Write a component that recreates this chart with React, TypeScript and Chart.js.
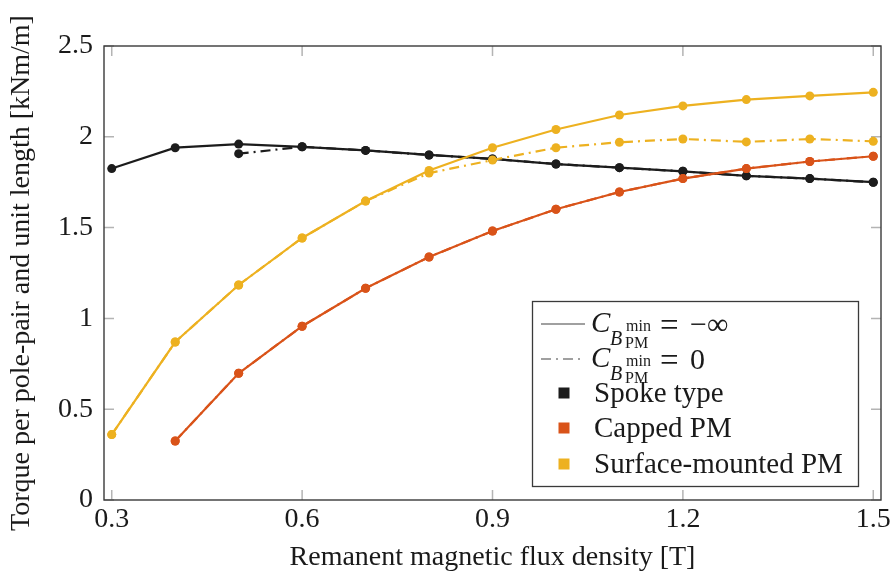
import React, { useEffect, useRef } from 'react';
import { Chart, registerables } from 'chart.js';

Chart.register(...registerables);

const X_VALUES = [0.3, 0.4, 0.5, 0.6, 0.7, 0.8, 0.9, 1.0, 1.1, 1.2, 1.3, 1.4, 1.5];
const SPOKE_SOLID = [1.825, 1.94, 1.96, 1.945, 1.925, 1.9, 1.878, 1.85, 1.83, 1.81, 1.785, 1.77, 1.75];
const SPOKE_DASHDOT = [null, null, 1.907, 1.945, 1.925, 1.9, 1.878, 1.85, 1.83, 1.81, 1.785, 1.77, 1.75];
const CAPPED_SOLID = [null, 0.325, 0.698, 0.957, 1.166, 1.338, 1.481, 1.601, 1.696, 1.77, 1.825, 1.864, 1.893];
const CAPPED_DASHDOT = [null, 0.325, 0.698, 0.957, 1.166, 1.338, 1.481, 1.601, 1.696, 1.77, 1.825, 1.864, 1.893];
const SURFACE_SOLID = [0.36, 0.87, 1.184, 1.443, 1.646, 1.815, 1.94, 2.04, 2.12, 2.17, 2.205, 2.225, 2.245];
const SURFACE_DASHDOT = [0.36, 0.87, 1.184, 1.443, 1.646, 1.8, 1.872, 1.94, 1.97, 1.988, 1.972, 1.988, 1.975];

const X_TICKS = [0.3, 0.6, 0.9, 1.2, 1.5];
const X_TICK_LABELS = ['0.3', '0.6', '0.9', '1.2', '1.5'];
const Y_TICKS = [0, 0.5, 1, 1.5, 2, 2.5];
const Y_TICK_LABELS = ['0', '0.5', '1', '1.5', '2', '2.5'];

const SERIES_NAMES = ['Spoke type', 'Capped PM', 'Surface-mounted PM'];
const X_TITLE = 'Remanent magnetic flux density [T]';
const Y_TITLE = 'Torque per pole-pair and unit length [kNm/m]';

const C_BLACK = '#1c1c1c';
const C_ORANGE = '#d95319';
const C_YELLOW = '#edb120';
const FONT = "'Liberation Serif', 'Times New Roman', serif";
const DASHDOT = [10, 5, 2, 5];

function toPoints(ys: (number | null)[]) {
  const out: { x: number; y: number }[] = [];
  ys.forEach((y, i) => {
    if (y !== null) out.push({ x: X_VALUES[i], y });
  });
  return out;
}

function ds(data: (number | null)[], color: string, dashed: boolean, order: number) {
  return {
    data: toPoints(data),
    borderColor: color,
    backgroundColor: color,
    borderWidth: 2.2,
    borderDash: dashed ? DASHDOT : [],
    pointRadius: 4.5,
    pointBorderWidth: 0,
    pointBackgroundColor: color,
    pointHoverRadius: 4.5,
    fill: false,
    tension: 0,
    order,
  };
}

const framePlugin = {
  id: 'frame',
  beforeDatasetsDraw(chart: any) {
    const { ctx, chartArea, scales } = chart;
    const { left, right, top, bottom } = chartArea;
    ctx.save();
    ctx.strokeStyle = '#b4b4b4';
    ctx.lineWidth = 1.5;
    const L = 10;
    X_TICKS.forEach((v) => {
      const px = scales.x.getPixelForValue(v);
      ctx.beginPath();
      ctx.moveTo(px, bottom);
      ctx.lineTo(px, bottom - L);
      ctx.moveTo(px, top);
      ctx.lineTo(px, top + L);
      ctx.stroke();
    });
    Y_TICKS.forEach((v) => {
      const py = scales.y.getPixelForValue(v);
      ctx.beginPath();
      ctx.moveTo(left, py);
      ctx.lineTo(left + L, py);
      ctx.moveTo(right, py);
      ctx.lineTo(right - L, py);
      ctx.stroke();
    });
    ctx.restore();
  },
  afterDraw(chart: any) {
    const { ctx, chartArea } = chart;
    const { left, right, top, bottom } = chartArea;
    ctx.save();
    ctx.strokeStyle = '#3a3a3a';
    ctx.lineWidth = 1.4;
    ctx.strokeRect(left, top, right - left, bottom - top);

    // Legend
    const bx = 532.5, by = 301.5, bw = 326, bh = 185;
    ctx.fillStyle = '#ffffff';
    ctx.fillRect(bx, by, bw, bh);
    ctx.strokeStyle = '#3a3a3a';
    ctx.lineWidth = 1.3;
    ctx.strokeRect(bx, by, bw, bh);

    // line samples
    ctx.strokeStyle = '#a0a0a0';
    ctx.lineWidth = 2.2;
    ctx.beginPath();
    ctx.moveTo(541, 324);
    ctx.lineTo(585, 324);
    ctx.stroke();
    ctx.setLineDash(DASHDOT);
    ctx.beginPath();
    ctx.moveTo(541, 359);
    ctx.lineTo(585, 359);
    ctx.stroke();
    ctx.setLineDash([]);

    ctx.fillStyle = '#1a1a1a';
    ctx.textBaseline = 'alphabetic';
    ctx.textAlign = 'left';
    const drawC = (dy: number, rhs: string) => {
      ctx.font = `italic 29px ${FONT}`;
      ctx.fillText('C', 591, 332 + dy);
      ctx.font = `italic 20px ${FONT}`;
      ctx.fillText('B', 610, 345 + dy);
      ctx.font = `16px ${FONT}`;
      ctx.fillText('min', 626, 331 + dy);
      ctx.fillText('PM', 625, 348 + dy);
      ctx.font = `33px ${FONT}`;
      ctx.fillText('=', 660, 336 + dy);
      ctx.font = `30px ${FONT}`;
      ctx.fillText(rhs, 690, 334 + dy);
    };
    drawC(0, '\u2212\u221e');
    drawC(35, '0');

    const colors = [C_BLACK, C_ORANGE, C_YELLOW];
    const ys = [393, 428, 464];
    ctx.font = `29px ${FONT}`;
    SERIES_NAMES.forEach((name, i) => {
      ctx.fillStyle = colors[i];
      ctx.fillRect(558.5, ys[i] - 5.5, 11, 11);
      ctx.fillStyle = '#1a1a1a';
      ctx.fillText(name, 594, ys[i] + 8.5);
    });
    ctx.restore();
  },
};

export default function App() {
  const ref = useRef<HTMLCanvasElement | null>(null);
  useEffect(() => {
    if (!ref.current) return;
    const chart = new Chart(ref.current, {
      type: 'line',
      data: {
        datasets: [
          ds(SPOKE_DASHDOT, C_BLACK, true, 6),
          ds(SPOKE_SOLID, C_BLACK, false, 5),
          ds(CAPPED_DASHDOT, C_ORANGE, true, 4),
          ds(CAPPED_SOLID, C_ORANGE, false, 3),
          ds(SURFACE_DASHDOT, C_YELLOW, true, 2),
          ds(SURFACE_SOLID, C_YELLOW, false, 1),
        ] as any,
      },
      options: {
        responsive: false,
        animation: false,
        devicePixelRatio: 1,
        layout: { padding: { top: 46, right: 14, left: 0, bottom: 0 } },
        plugins: { legend: { display: false }, tooltip: { enabled: false } },
        events: [],
        scales: {
          x: {
            type: 'linear',
            min: 0.2878,
            max: 1.5122,
            grid: { display: false, drawTicks: false },
            border: { display: false },
            afterFit: (s: any) => {
              s.height = 81;
            },
            afterBuildTicks: (s: any) => {
              s.ticks = X_TICKS.map((v) => ({ value: v }));
            },
            ticks: {
              padding: 3,
              color: '#1a1a1a',
              font: { family: FONT, size: 28 },
              maxRotation: 0,
              autoSkip: false,
              callback: (v: any) => {
                const i = X_TICKS.findIndex((t) => Math.abs(t - v) < 1e-6);
                return i >= 0 ? X_TICK_LABELS[i] : '';
              },
            },
            title: {
              display: true,
              text: X_TITLE,
              color: '#1a1a1a',
              font: { family: FONT, size: 28 },
              padding: { top: 0, bottom: 7 },
            },
          },
          y: {
            type: 'linear',
            min: 0,
            max: 2.5,
            grid: { display: false, drawTicks: false },
            border: { display: false },
            afterFit: (s: any) => {
              s.width = 104;
            },
            afterBuildTicks: (s: any) => {
              s.ticks = Y_TICKS.map((v) => ({ value: v }));
            },
            ticks: {
              padding: 11,
              color: '#1a1a1a',
              font: { family: FONT, size: 28 },
              autoSkip: false,
              callback: (v: any) => {
                const i = Y_TICKS.findIndex((t) => Math.abs(t - v) < 1e-6);
                return i >= 0 ? Y_TICK_LABELS[i] : '';
              },
            },
            title: {
              display: true,
              text: Y_TITLE,
              color: '#1a1a1a',
              font: { family: FONT, size: 28 },
              padding: { top: 5, bottom: 0 },
            },
          },
        },
      },
      plugins: [framePlugin],
    } as any);
    return () => chart.destroy();
  }, []);
  return (
    <div style={{ position: 'fixed', left: 0, top: 0, width: 895, height: 581, background: '#fff' }}>
      <canvas ref={ref} width={895} height={581} style={{ display: 'block', width: 895, height: 581 }} />
    </div>
  );
}
